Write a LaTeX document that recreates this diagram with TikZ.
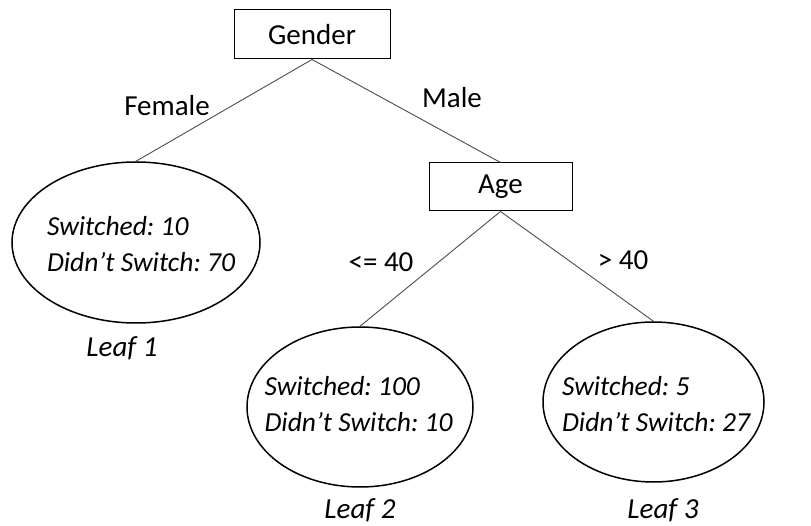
\documentclass[tikz,border=0pt]{standalone}
\usepackage{fontspec}
\setmainfont{Carlito}
\usetikzlibrary{shapes.geometric}
\frenchspacing
\begin{document}
\begin{tikzpicture}[x=1pt,y=-1pt,
  every node/.style={font=\fontsize{29}{36}\selectfont},
  splitbox/.style={draw=black,line width=1pt,minimum width=#1,minimum height=48pt,inner sep=0pt},
  leafnode/.style={draw=black,ellipse,line width=1.5pt,inner sep=0pt},
  leaftext/.style={inner sep=0pt,align=left,font=\fontsize{27.5}{36}\selectfont\itshape},
  branch/.style={draw=black!70,line width=0.9pt},
  lbl/.style={inner sep=0pt},
  leaflbl/.style={inner sep=0pt,font=\fontsize{29}{36}\selectfont\itshape}]
\useasboundingbox (0,0) rectangle (811,526);
\node[splitbox=156pt,minimum height=49pt] (g) at (312,34.5) {Gender};
\node[splitbox=143pt] (age) at (500.5,187) {Age};
\node[leafnode,minimum width=248pt,minimum height=161pt] (l1) at (136,242.5) {};
\node[leafnode,minimum width=226pt,minimum height=160pt] (l2) at (360,407) {};
\node[leafnode,minimum width=221pt,minimum height=160pt] (l3) at (653.5,402) {};
\node[leaftext] (t1) at (141,244.5) {Switched: 10\\Didn't Switch: 70};
\node[leaftext] (t2) at (358.5,404) {Switched: 100\\Didn't Switch: 10};
\node[leaftext] (t3) at (656,404) {Switched: 5\\Didn't Switch: 27};
\draw[branch] (g.south) -- (l1.north);
\draw[branch] (g.south) -- (age.north);
\draw[branch] (age.south) -- (l2.north);
\draw[branch] (age.south) -- (l3.north);
\node[lbl] (female) at (167,106) {Female};
\node[lbl] (male) at (452,98) {Male};
\node[lbl] (le40) at (381,262) {<= 40};
\node[lbl] (gt40) at (623,260) {> 40};
\node[leaflbl] (leaf1) at (122,348) {Leaf 1};
\node[leaflbl] (leaf2) at (360,510) {Leaf 2};
\node[leaflbl] (leaf3) at (663,510) {Leaf 3};
\end{tikzpicture}
\end{document}
